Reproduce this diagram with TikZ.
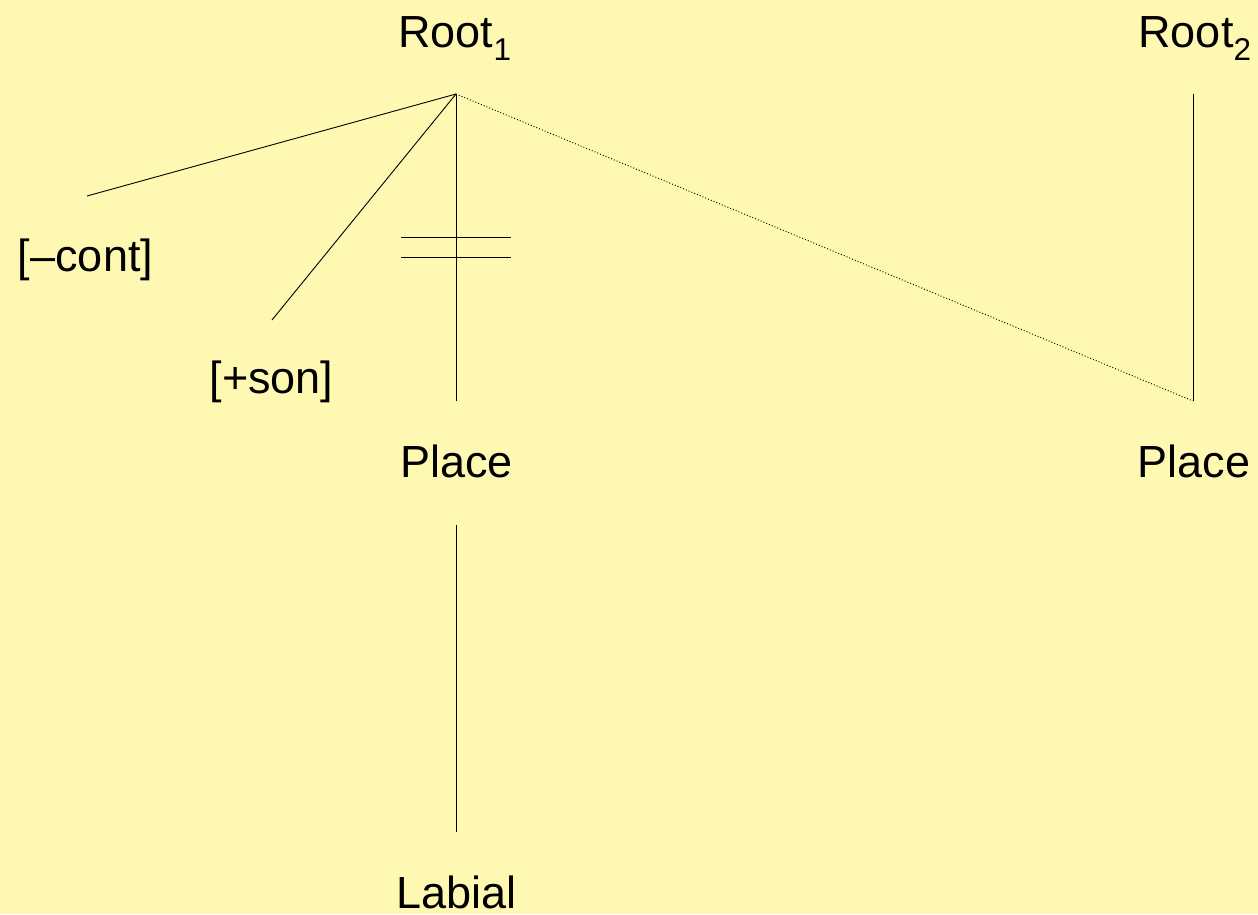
\documentclass[tikz,border=0pt]{standalone}
\usepackage{fontspec}
\setmainfont{Liberation Sans}
\definecolor{bgyellow}{RGB}{255,248,178}
\begin{document}
\begin{tikzpicture}[x=1pt,y=-1pt,
  lbl/.style={anchor=base,inner sep=0pt,font=\fontsize{45}{54}\selectfont},
  branch/.style={draw=black,line width=0.9pt},
  dotbranch/.style={draw=black,line width=0.9pt,dotted,dash pattern=on 1pt off 2pt}]
\fill[bgyellow] (0,0) rectangle (1258,914);
\useasboundingbox (0,0) rectangle (1258,914);
% labels
\node[lbl] (root1) at (455,47) {Root\textsubscript{1}};
\node[lbl] (root2) at (1195,47) {Root\textsubscript{2}};
\node[lbl] (cont) at (85.5,271) {[–cont]};
\node[lbl] (son) at (271.5,393) {[+son]};
\node[lbl] (place1) at (456.5,477) {Place};
\node[lbl] (place2) at (1194,477) {Place};
\node[lbl] (labial) at (456.5,908) {Labial};
% connector end points
\coordinate (r1top) at (456,94);
\coordinate (contend) at (87,196);
\coordinate (sonend) at (272,320);
\coordinate (p1top) at (456,401);
\coordinate (r2top) at (1193,94);
\coordinate (p2top) at (1193,401);
\coordinate (p1bot) at (456,525);
\coordinate (labtop) at (456,832);
\coordinate (barAl) at (401,237);
\coordinate (barAr) at (511,237);
\coordinate (barBl) at (401,257);
\coordinate (barBr) at (511,257);
% connectors
\draw[branch] (r1top) -- (contend);
\draw[branch] (r1top) -- (sonend);
\draw[branch] (r1top) -- (p1top);
\draw[dotbranch] (r1top) -- (p2top);
\draw[branch] (r2top) -- (p2top);
\draw[branch] (p1bot) -- (labtop);
\draw[branch] (barAl) -- (barAr);
\draw[branch] (barBl) -- (barBr);
\end{tikzpicture}
\end{document}
